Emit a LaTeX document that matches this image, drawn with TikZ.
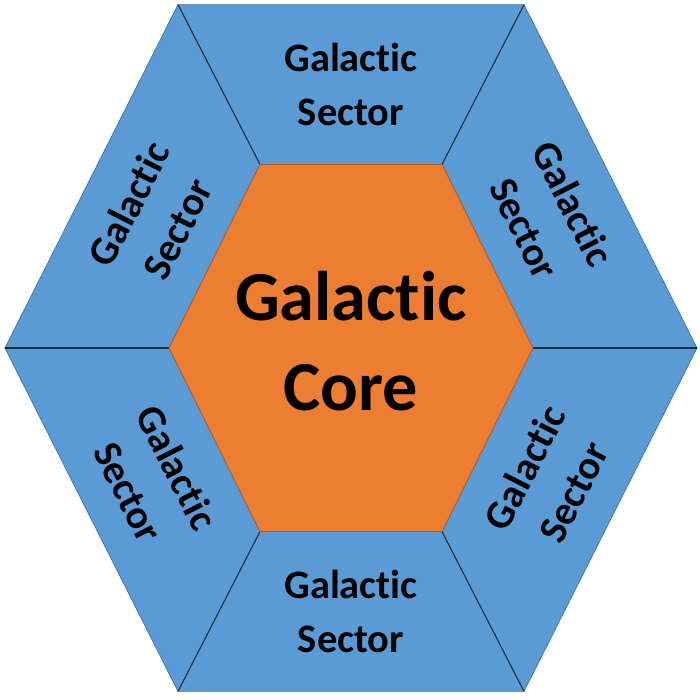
\documentclass[tikz,border=0pt]{standalone}
\usepackage{fontspec}
\setmainfont{Carlito}[Ligatures=NoCommon]
\usepackage{tikz}
\usetikzlibrary{calc}
\definecolor{bleuSecteur}{RGB}{91, 155, 213}
\definecolor{bleuBord}{RGB}{65, 113, 156}
\definecolor{orangeNoyau}{RGB}{237, 125, 49}
\definecolor{orangeBord}{RGB}{174, 90, 33}
\definecolor{griFonce}{RGB}{35, 45, 60}

\begin{document}
\begin{tikzpicture}[
  sector/.style={fill=bleuSecteur, draw=bleuBord, line width=0.4pt,
    line join=miter},
  spoke/.style={draw=griFonce, line width=0.6pt},
  core/.style={fill=orangeNoyau, draw=orangeBord, line width=0.4pt},
  seclbl/.style={align=center, font=\fontsize{23}{31}\selectfont\bfseries,
    text=black},
  corelbl/.style={align=center, font=\fontsize{40}{51}\selectfont\bfseries,
    text=black},
]
\useasboundingbox (-7.02,-7.04) rectangle (6.98,6.96);
% outer and inner corners
\foreach \k in {0,...,5}{
  \coordinate (o\k) at ({6.92*cos(60*\k)},{7.93*sin(60*\k)});
  \coordinate (i\k) at ({3.64*cos(60*\k)},{4.24*sin(60*\k)});
}
% sectors
\foreach \k/\n in {0/1,1/2,2/3,3/4,4/5,5/0}
  \draw[sector] (i\k) -- (o\k) -- (o\n) -- (i\n) -- cycle;
\foreach \k in {0,...,5}
  \draw[spoke] (i\k) -- (o\k);
% core
\draw[core] (i0) -- (i1) -- (i2) -- (i3) -- (i4) -- (i5) -- cycle;
\node[corelbl] (noyau) at (0,0.14) {Galactic\\Core};
% sector labels
\foreach \k/\n/\r in {0/1/-63,1/2/0,2/3/63,3/4/-63,4/5/0,5/0/63}
  \node[seclbl, rotate=\r] (s\k)
    at ($($(i\k)!.5!(i\n)$)!.5!($(o\k)!.5!(o\n)$)$) {Galactic\\Sector};
\end{tikzpicture}
\end{document}
